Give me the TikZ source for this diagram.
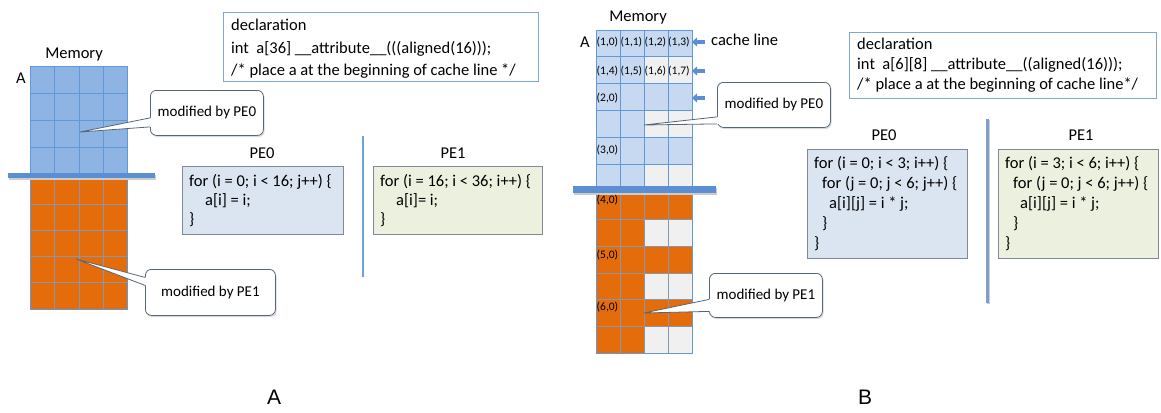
\documentclass[tikz,border=0pt]{standalone}
\usepackage{fontspec}
\setmainfont{Carlito}
\newfontfamily\labelfont{Liberation Sans}
\usetikzlibrary{arrows.meta}

\definecolor{memblue}{HTML}{8DB4E2}
\definecolor{memline}{HTML}{6199D8}
\definecolor{lightcell}{HTML}{C6D9F1}
\definecolor{emptycell}{HTML}{F0F0F0}
\definecolor{orangecell}{HTML}{E46C0A}
\definecolor{orangeline}{HTML}{8A97AA}
\definecolor{barblue}{HTML}{5B8FD2}
\definecolor{codeblue}{HTML}{DBE5F1}
\definecolor{codegreen}{HTML}{EBF1DE}
\definecolor{codeframe}{HTML}{7F8A96}
\definecolor{declframe}{HTML}{7DA7DA}
\definecolor{calloutframe}{HTML}{56667A}
\definecolor{sepblue}{HTML}{6FA0DA}
\definecolor{sepdark}{HTML}{7C9FCC}

\begin{document}
\begin{tikzpicture}[x=1pt,y=-1pt,
  plain/.style={inner sep=0pt, font=\fontsize{16.5}{19.5}\selectfont},
  celllabel/.style={inner sep=0pt, anchor=west, font=\fontsize{11.5}{13}\selectfont},
  codebox/.style={draw=codeframe, line width=0.8pt, anchor=north west, inner sep=0pt},
  codetext/.style={anchor=west, align=left, inner sep=0pt},
  declbox/.style={draw=declframe, fill=white, line width=0.9pt, anchor=north west, inner sep=0pt},
  callout/.style={draw=calloutframe, fill=white, rounded corners=6pt, line width=0.8pt,
    anchor=north west, inner sep=0pt, font=\fontsize{15}{18}\selectfont,
    preaction={fill=black!15, transform canvas={xshift=1.2pt,yshift=-1.6pt}}},
  wedge/.style={draw=calloutframe, line width=0.8pt, line join=miter},
  bar/.style={fill=barblue},
  cachearrow/.style={draw=barblue, line width=3.5pt, -{Triangle[length=5pt,width=9pt]}},
  bigletter/.style={inner sep=0pt, font=\labelfont\fontsize{21}{24}\selectfont}
]
\useasboundingbox (0,0) rectangle (1161,412);

% ---------------- Part A: one-dimensional array ----------------
\node[plain] (memA) at (74,55) {Memory};
\node[plain] (nameA) at (21,78) {A};

% elements written by PE0 (4 rows of 4)
\fill[memblue] (30.5,66) rectangle (127.5,174);
\foreach \c in {1,2,3} \draw[memline, line width=0.7pt] (30.5+24.25*\c,66) -- (30.5+24.25*\c,174);
\foreach \r in {1,2,3} \draw[memline, line width=0.7pt] (30.5,66+27*\r) -- (127.5,66+27*\r);
\draw[memline, line width=0.7pt] (30.5,66) rectangle (127.5,174);

% elements written by PE1 (5 rows of 4)
\fill[orangecell] (30.5,178) rectangle (127.5,309);
\foreach \c in {1,2,3} \draw[orangeline, line width=0.7pt] (30.5+24.25*\c,178) -- (30.5+24.25*\c,309);
\foreach \r in {1,...,4} \draw[orangeline, line width=0.7pt] (30.5,178+26.2*\r) -- (127.5,178+26.2*\r);
\draw[memline, line width=0.7pt] (30.5,178) rectangle (127.5,309);

% partition bar
\fill[black!20] (9,174.5) rectangle (156,179.5);
\fill[bar] (8,172.5) rectangle (155,178);

% declaration
\node[declbox, minimum width=315, minimum height=69] (declA) at (223,12) {};
\node[codetext, font=\fontsize{16.5}{22.5}\selectfont] (declAtext) at ([xshift=8pt,yshift=-2pt]declA.west)
  {declaration\\int\ \ a[36] \_\_attribute\_\_(((aligned(16)));\\/* place a at the beginning of cache line */};

% code of the two processing elements
\node[plain] (peA0) at (262,153) {PE0};
\node[plain] (peA1) at (453,153) {PE1};
\node[codebox, fill=codeblue, minimum width=161, minimum height=68] (codeA0) at (182,166) {};
\node[codetext, font=\fontsize{16.5}{19}\selectfont] (codeA0text) at ([xshift=7pt]codeA0.west)
  {for (i = 0; i < 16; j++) \{\\\hspace*{16pt}a[i] = i;\\\}};
\node[codebox, fill=codegreen, minimum width=169, minimum height=68] (codeA1) at (373,166) {};
\node[codetext, font=\fontsize{16.5}{19}\selectfont] (codeA1text) at ([xshift=7pt]codeA1.west)
  {for (i = 16; i < 36; i++) \{\\\hspace*{16pt}a[i]= i;\\\}};

\coordinate (sepAtop) at (363,136);
\coordinate (sepAbot) at (363,277);
\draw[sepblue, line width=2pt] (sepAtop) -- (sepAbot);

% callouts
\node[callout, minimum width=113, minimum height=45] (callA0) at (150,90) {modified by PE0};
\coordinate (tipA0) at (80,132);
\fill[white] ([xshift=2pt,yshift=-5pt]callA0.west) -- ([yshift=-5pt]callA0.west) -- (tipA0)
  -- ([yshift=-14pt]callA0.west) -- ([xshift=2pt,yshift=-14pt]callA0.west) -- cycle;
\draw[wedge] ([yshift=-5pt]callA0.west) -- (tipA0) -- ([yshift=-14pt]callA0.west);

\node[callout, minimum width=130, minimum height=46] (callA1) at (145,269) {modified by PE1};
\coordinate (tipA1) at (76,259);
\fill[white] ([xshift=2pt,yshift=15pt]callA1.west) -- ([yshift=15pt]callA1.west) -- (tipA1)
  -- ([yshift=7pt]callA1.west) -- ([xshift=2pt,yshift=7pt]callA1.west) -- cycle;
\draw[wedge] ([yshift=15pt]callA1.west) -- (tipA1) -- ([yshift=7pt]callA1.west);

\node[bigletter] (figA) at (274,397) {A};

% ---------------- Part B: two-dimensional array ----------------
\node[plain] (memB) at (638,18) {Memory};
\node[plain] (nameB) at (585,42) {A};

% rows of PE0 (i = 0..2), each row of 8 spans two lines of 4
\fill[lightcell] (596,30) rectangle (692,190.8);
\foreach \r in {1,3,5} \fill[emptycell] (644,30+26.8*\r) rectangle (692,30+26.8*\r+26.8);
\foreach \c in {1,2,3} \draw[memline, line width=0.7pt] (596+24*\c,30) -- (596+24*\c,190.8);
\foreach \r in {1,...,5} \draw[memline, line width=0.7pt] (596,30+26.8*\r) -- (692,30+26.8*\r);
\draw[memline, line width=0.7pt] (596,30) rectangle (692,190.8);

% rows of PE1 (i = 3..5)
\fill[orangecell] (596,193) rectangle (692,353);
\foreach \r in {1,3,5} \fill[emptycell] (644,193+26.67*\r) rectangle (692,193+26.67*\r+26.67);
\foreach \c in {1,2,3} \draw[orangeline, line width=0.7pt] (596+24*\c,193) -- (596+24*\c,353);
\foreach \r in {1,...,5} \draw[orangeline, line width=0.7pt] (596,193+26.67*\r) -- (692,193+26.67*\r);
\draw[memline, line width=0.7pt] (596,193) rectangle (692,353);

% partition bar
\fill[black!20] (574,188) rectangle (717,194.5);
\fill[bar] (573,186) rectangle (716,193);

% element indices
\node[celllabel] (e10) at (596.5,42) {(1,0)};
\node[celllabel] (e11) at (620.5,42) {(1,1)};
\node[celllabel] (e12) at (644.5,42) {(1,2)};
\node[celllabel] (e13) at (668,42) {(1,3)};
\node[celllabel] (e14) at (596.5,71) {(1,4)};
\node[celllabel] (e15) at (620.5,71) {(1,5)};
\node[celllabel] (e16) at (644.5,71) {(1,6)};
\node[celllabel] (e17) at (668,71) {(1,7)};
\node[celllabel] (e20) at (596.5,98) {(2,0)};
\node[celllabel] (e30) at (596.5,150) {(3,0)};
\node[celllabel] (e40) at (596.5,200) {(4,0)};
\node[celllabel] (e50) at (596.5,255) {(5,0)};
\node[celllabel] (e60) at (596.5,307) {(6,0)};

% cache line markers
\foreach \y/\n in {42/a,71/b,98/c} {
  \coordinate (cl\n s) at (705,\y);
  \coordinate (cl\n e) at (692,\y);
  \draw[cachearrow] (cl\n s) -- (cl\n e);
}
\node[plain, anchor=west] (cacheline) at (711,40) {cache line};

% declaration
\node[declbox, minimum width=307, minimum height=66] (declB) at (849,32) {};
\node[codetext, font=\fontsize{16.5}{20}\selectfont] (declBtext) at ([xshift=8pt]declB.west)
  {declaration\\int\ \ a[6][8] \_\_attribute\_\_((aligned(16)));\\/* place a at the beginning of cache line*/};

% code of the two processing elements
\node[plain] (peB0) at (884,135) {PE0};
\node[plain] (peB1) at (1081,135) {PE1};
\node[codebox, fill=codeblue, minimum width=160, minimum height=109] (codeB0) at (807,149) {};
\node[codetext, font=\fontsize{16.5}{20}\selectfont] (codeB0text) at ([xshift=7pt]codeB0.west)
  {for (i = 0; i < 3; i++) \{\\\hspace*{8pt}for (j = 0; j < 6; j++) \{\\\hspace*{15pt}a[i][j] = i * j;\\\hspace*{8pt}\}\\\}};
\node[codebox, fill=codegreen, minimum width=160, minimum height=109] (codeB1) at (998,149) {};
\node[codetext, font=\fontsize{16.5}{20}\selectfont] (codeB1text) at ([xshift=7pt]codeB1.west)
  {for (i = 3; i < 6; i++) \{\\\hspace*{8pt}for (j = 0; j < 6; j++) \{\\\hspace*{15pt}a[i][j] = i * j;\\\hspace*{8pt}\}\\\}};

\coordinate (sepBtop) at (987,119);
\coordinate (sepBbot) at (987,303);
\draw[black!20, line width=3pt] ([xshift=1pt,yshift=-1pt]sepBtop) -- ([xshift=1pt,yshift=-1pt]sepBbot);
\draw[sepdark, line width=3pt] (sepBtop) -- (sepBbot);

% callouts
\node[callout, minimum width=113, minimum height=45] (callB0) at (717,82) {modified by PE0};
\coordinate (tipB0) at (644,125);
\fill[white] ([xshift=2pt,yshift=-12pt]callB0.west) -- ([yshift=-12pt]callB0.west) -- (tipB0)
  -- ([yshift=-19pt]callB0.west) -- ([xshift=2pt,yshift=-19pt]callB0.west) -- cycle;
\draw[wedge] ([yshift=-12pt]callB0.west) -- (tipB0) -- ([yshift=-19pt]callB0.west);

\node[callout, minimum width=113, minimum height=44] (callB1) at (709,273) {modified by PE1};
\coordinate (tipB1) at (644,313);
\fill[white] ([xshift=2pt,yshift=-4pt]callB1.west) -- ([yshift=-4pt]callB1.west) -- (tipB1)
  -- ([yshift=-16pt]callB1.west) -- ([xshift=2pt,yshift=-16pt]callB1.west) -- cycle;
\draw[wedge] ([yshift=-4pt]callB1.west) -- (tipB1) -- ([yshift=-16pt]callB1.west);

\node[bigletter] (figB) at (865,397) {B};
\end{tikzpicture}
\end{document}
